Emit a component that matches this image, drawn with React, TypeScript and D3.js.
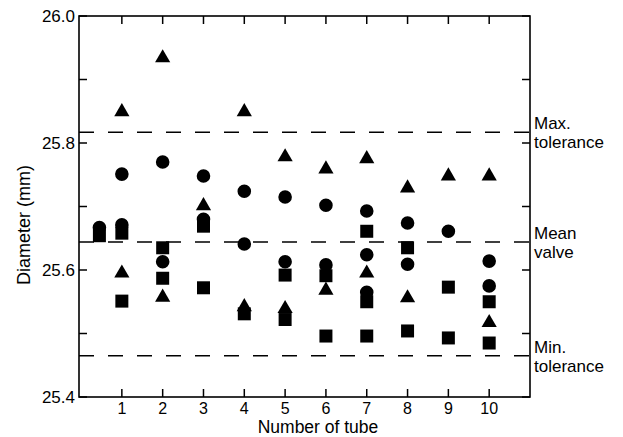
import React from "react";
import * as d3 from "d3";

// tube number, diameter (mm)
const circles: [number, number][] = [
  [0.45, 25.667],
  [1, 25.751], [1, 25.671],
  [2, 25.77], [2, 25.613],
  [3, 25.748], [3, 25.68],
  [4, 25.724], [4, 25.641],
  [5, 25.715], [5, 25.613],
  [6, 25.702], [6, 25.608],
  [7, 25.693], [7, 25.624], [7, 25.565],
  [8, 25.674], [8, 25.609],
  [9, 25.661],
  [10, 25.614], [10, 25.575],
];

const squares: [number, number][] = [
  [0.45, 25.654],
  [1, 25.658], [1, 25.551],
  [2, 25.635], [2, 25.587],
  [3, 25.669], [3, 25.572],
  [4, 25.531],
  [5, 25.592], [5, 25.522],
  [6, 25.591], [6, 25.496],
  [7, 25.661], [7, 25.55], [7, 25.496],
  [8, 25.635], [8, 25.504],
  [9, 25.573], [9, 25.493],
  [10, 25.55], [10, 25.485],
];

const triangles: [number, number][] = [
  [1, 25.849], [1, 25.595],
  [2, 25.934], [2, 25.557],
  [3, 25.701],
  [4, 25.849], [4, 25.542],
  [5, 25.778], [5, 25.539],
  [6, 25.759], [6, 25.568],
  [7, 25.775], [7, 25.595],
  [8, 25.729], [8, 25.556],
  [9, 25.748],
  [10, 25.748], [10, 25.517],
];

const xTicks = [1, 2, 3, 4, 5, 6, 7, 8, 9, 10];
const yLabelTicks = [25.4, 25.6, 25.8, 26.0];
const yTicks = [25.4, 25.5, 25.6, 25.7, 25.8, 25.9, 26.0];

const limits = [
  { value: 25.817, lines: ["Max.", "tolerance"] },
  { value: 25.644, lines: ["Mean", "valve"] },
  { value: 25.465, lines: ["Min.", "tolerance"] },
];

const W = 623;
const H = 437;
const font = "'Liberation Sans', Arial, Helvetica, sans-serif";

export default function App() {
  const x = d3.scaleLinear().domain([-0.05, 11]).range([79, 530]);
  const y = d3.scaleLinear().domain([25.4, 26.0]).range([397, 16]);
  const [x0, x1] = x.range();
  const [y0, y1] = y.range();
  const tk = 8;

  const circlePath = d3.symbol().type(d3.symbolCircle).size(Math.PI * 6.8 * 6.8)()!;
  const squarePath = d3.symbol().type(d3.symbolSquare).size(13 * 13)()!;
  const trianglePath = d3.symbol().type(d3.symbolTriangle).size(100)()!;

  return (
    <svg
      width={W}
      height={H}
      style={{ position: "absolute", left: 0, top: 0, background: "#fff" }}
      fontFamily={font}
    >
      {/* dashed limit lines */}
      {limits.map((l) => (
        <line
          key={l.value}
          x1={x0}
          x2={x1}
          y1={y(l.value)}
          y2={y(l.value)}
          stroke="#000"
          strokeWidth={1.5}
          strokeDasharray="15,14"
        />
      ))}

      {/* frame */}
      <rect x={x0} y={y1} width={x1 - x0} height={y0 - y1} fill="none" stroke="#000" strokeWidth={1.6} />

      {/* ticks, all inward */}
      {xTicks.map((t) => (
        <g key={t}>
          <line x1={x(t)} x2={x(t)} y1={y0} y2={y0 - tk} stroke="#000" strokeWidth={1.5} />
          <line x1={x(t)} x2={x(t)} y1={y1} y2={y1 + tk} stroke="#000" strokeWidth={1.5} />
          <text x={x(t)} y={y0 + 16.5} textAnchor="middle" fontSize={16}>
            {t}
          </text>
        </g>
      ))}
      {yTicks.map((t) => (
        <g key={t}>
          <line x1={x0} x2={x0 + tk} y1={y(t)} y2={y(t)} stroke="#000" strokeWidth={1.5} />
          <line x1={x1} x2={x1 - tk} y1={y(t)} y2={y(t)} stroke="#000" strokeWidth={1.5} />
        </g>
      ))}
      {yLabelTicks.map((t) => (
        <text key={t} x={x0 - 4} y={y(t)} dy="0.36em" textAnchor="end" fontSize={17}>
          {d3.format(".1f")(t)}
        </text>
      ))}

      {/* right side labels */}
      {limits.map((l) => (
        <text key={l.value} x={x1 + 4} y={y(l.value) - 3} fontSize={17}>
          <tspan x={x1 + 4}>{l.lines[0]}</tspan>
          <tspan x={x1 + 4} dy={19}>
            {l.lines[1]}
          </tspan>
        </text>
      ))}

      {/* axis titles */}
      <text x={318} y={433.3} textAnchor="middle" fontSize={17.5}>
        Number of tube
      </text>
      <text transform={`translate(30,${225}) rotate(-90)`} textAnchor="middle" fontSize={18}>
        Diameter (mm)
      </text>

      {/* markers */}
      {circles.map(([t, v], i) => (
        <path key={"c" + i} d={circlePath} transform={`translate(${x(t)},${y(v)})`} fill="#000" />
      ))}
      {squares.map(([t, v], i) => (
        <path key={"s" + i} d={squarePath} transform={`translate(${x(t)},${y(v)})`} fill="#000" />
      ))}
      {triangles.map(([t, v], i) => (
        <path key={"t" + i} d={trianglePath} transform={`translate(${x(t)},${y(v)})`} fill="#000" />
      ))}
    </svg>
  );
}
